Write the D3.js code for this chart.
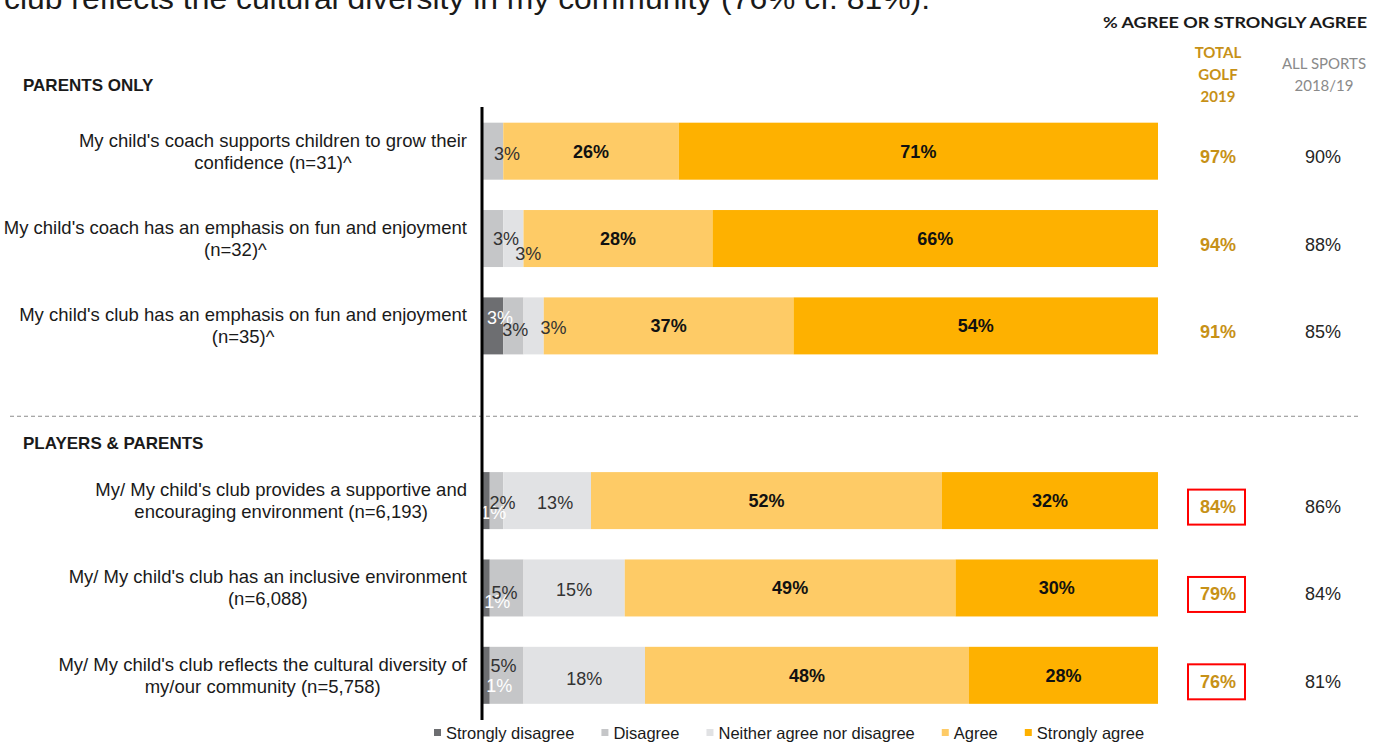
<!DOCTYPE html>
<html><head><meta charset="utf-8">
<script src="https://cdn.jsdelivr.net/npm/d3@7"></script>
<style>body{margin:0;background:#fff;}svg{display:block;}</style>
</head><body>
<svg id="chart" width="1374" height="750"></svg>
<script>
// ---- data ----
const titleText = "club reflects the cultural diversity in my community (76% cf. 81%).";
const sections = ["PARENTS ONLY", "PLAYERS & PARENTS"];
const categories = [
  ["My child's coach supports children to grow their", "confidence (n=31)^"],
  ["My child's coach has an emphasis on fun and enjoyment", "(n=32)^"],
  ["My child's club has an emphasis on fun and enjoyment", "(n=35)^"],
  ["My/ My child's club provides a supportive and", "encouraging environment (n=6,193)"],
  ["My/ My child's club has an inclusive environment", "(n=6,088)"],
  ["My/ My child's club reflects the cultural diversity of", "my/our community (n=5,758)"]
];
const rowSection = [0, 0, 0, 1, 1, 1];
const seriesNames = ["Strongly disagree", "Disagree", "Neither agree nor disagree", "Agree", "Strongly agree"];
const stronglyDisagree = [0, 0, 3, 1, 1, 1];
const disagree         = [3, 3, 3, 2, 5, 5];
const neither          = [0, 3, 3, 13, 15, 18];
const agree            = [26, 28, 37, 52, 49, 48];
const stronglyAgree    = [71, 66, 54, 32, 30, 28];
const totalGolf2019    = [97, 94, 91, 84, 79, 76];
const allSports201819  = [90, 88, 85, 86, 84, 81];
const highlighted      = [false, false, false, true, true, true];
const headerMain = "% AGREE OR STRONGLY AGREE";
const headerGolf = ["TOTAL", "GOLF", "2019"];
const headerAll = ["ALL SPORTS", "2018/19"];

// ---- styles ----
const colors = ["#6d6e71", "#c5c6c8", "#e1e2e4", "#fecb66", "#feb100"];
const labelColors = ["#ffffff", "#333333", "#333333", "#111111", "#111111"];
const labelWeights = ["normal", "normal", "normal", "bold", "bold"];
const gold = "#c79117";
const FONT = "'Liberation Sans', Arial, sans-serif";
// manual label nudges [row-series] = [dx, dy] (mimicking the original label placement)
const nudge = {
  "0-1": [14, 2],
  "1-1": [13, 0], "1-2": [15, 15],
  "2-0": [7, -8], "2-1": [2, 4], "2-2": [20, 2],
  "3-0": [7, 12], "3-1": [6, 2], "3-2": [8, 2],
  "4-0": [11, 14], "4-1": [-2, 5], "4-2": [0, 2],
  "5-0": [13, 10], "5-1": [-3, -10], "5-2": [0, 3]
};

const svg = d3.select("#chart");
const series = [stronglyDisagree, disagree, neither, agree, stronglyAgree];

const x = d3.scaleLinear().domain([0, 100]).range([483, 1158]);
const slots = ["r0", "r1", "r2", "gap", "r3", "r4", "r5"];
const y = d3.scalePoint().domain(slots).range([107.5, 719]).padding(0.5);
const rowKey = i => slots[i < 3 ? i : i + 1];
const barH = 57;

// title (cut at top)
svg.append("text").attr("x", 4).attr("y", 9)
  .attr("font-family", FONT).attr("font-size", 29).attr("fill", "#1a1a1a")
  .attr("textLength", 926).attr("lengthAdjust", "spacingAndGlyphs")
  .text(titleText);

// headers
svg.append("text").attr("x", 1235).attr("y", 28).attr("text-anchor", "middle")
  .attr("font-family", "Lato, 'Open Sans', sans-serif").attr("font-weight", "bold")
  .attr("font-size", 16).attr("fill", "#1a1a1a")
  .attr("textLength", 264).attr("lengthAdjust", "spacingAndGlyphs").text(headerMain);
headerGolf.forEach((t, i) => svg.append("text").attr("x", 1218).attr("y", 58 + i * 22)
  .attr("text-anchor", "middle").attr("font-family", "Lato, 'Open Sans', sans-serif")
  .attr("font-weight", "bold").attr("font-size", 15).attr("fill", gold).text(t));
headerAll.forEach((t, i) => svg.append("text").attr("x", 1324).attr("y", 69 + i * 22)
  .attr("text-anchor", "middle").attr("font-family", "Lato, 'Open Sans', sans-serif")
  .attr("font-size", 15).attr("fill", "#8a8a8a").text(t));

// section headings
svg.append("text").attr("x", 23).attr("y", 91).attr("font-family", FONT)
  .attr("font-weight", "bold").attr("font-size", 17).attr("fill", "#1a1a1a").text(sections[0]);
svg.append("text").attr("x", 23).attr("y", 449).attr("font-family", FONT)
  .attr("font-weight", "bold").attr("font-size", 17).attr("fill", "#1a1a1a").text(sections[1]);

// dashed separator
svg.append("line").attr("x1", 10).attr("x2", 1360).attr("y1", y("gap") + 3).attr("y2", y("gap") + 3)
  .attr("stroke", "#8c8c8c").attr("stroke-width", 1).attr("stroke-dasharray", "4,3");

// stacked data
const rows = categories.map((c, i) => {
  const o = {i};
  seriesNames.forEach((s, k) => o[s] = series[k][i]);
  return o;
});
const stack = d3.stack().keys(seriesNames)(rows);

stack.forEach((layer, k) => {
  svg.append("g").selectAll("rect").data(layer).join("rect")
    .attr("x", d => x(d[0])).attr("width", d => x(d[1]) - x(d[0]))
    .attr("y", d => y(rowKey(d.data.i)) - barH / 2).attr("height", barH)
    .attr("fill", colors[k]);
});
stack.forEach((layer, k) => {
  svg.append("g").selectAll("text").data(layer.filter(d => d[1] - d[0] > 0)).join("text")
    .attr("x", d => x((d[0] + d[1]) / 2) + ((nudge[d.data.i + "-" + k] || [0, 0])[0]))
    .attr("y", d => y(rowKey(d.data.i)) + ((nudge[d.data.i + "-" + k] || [0, 0])[1]))
    .attr("dy", "0.36em").attr("text-anchor", "middle")
    .attr("font-family", FONT).attr("font-size", 18)
    .attr("font-weight", labelWeights[k]).attr("fill", labelColors[k])
    .text(d => (d[1] - d[0]) + "%");
});

// axis line
svg.append("line").attr("x1", 482).attr("x2", 482).attr("y1", 107).attr("y2", 720)
  .attr("stroke", "#000").attr("stroke-width", 3);

// category labels (two lines, centered block, right-aligned to axis)
categories.forEach((lines, i) => {
  const cy = y(rowKey(i));
  const g = svg.append("g");
  const mk = t => g.append("text").attr("font-family", FONT).attr("font-size", 18.5)
    .attr("fill", "#1a1a1a").attr("text-anchor", "middle").text(t);
  const t1 = mk(lines[0]), t2 = mk(lines[1]);
  const w = Math.max(t1.node().getComputedTextLength(), t2.node().getComputedTextLength());
  const cx = 467 - w / 2;
  t1.attr("x", cx).attr("y", cy - 11).attr("dy", "0.35em");
  t2.attr("x", cx).attr("y", cy + 11).attr("dy", "0.35em");
});

// value columns
categories.forEach((c, i) => {
  const cy = y(rowKey(i)) + 6;
  svg.append("text").attr("x", 1218).attr("y", cy).attr("dy", "0.35em").attr("text-anchor", "middle")
    .attr("font-family", FONT).attr("font-weight", "bold").attr("font-size", 18).attr("fill", gold)
    .text(totalGolf2019[i] + "%");
  svg.append("text").attr("x", 1323).attr("y", cy).attr("dy", "0.35em").attr("text-anchor", "middle")
    .attr("font-family", FONT).attr("font-size", 18).attr("fill", "#262626")
    .text(allSports201819[i] + "%");
  if (highlighted[i]) {
    svg.append("rect").attr("x", 1188).attr("y", cy - 17).attr("width", 57).attr("height", 35)
      .attr("fill", "none").attr("stroke", "#ff0000").attr("stroke-width", 2);
  }
});

// legend
const legend = svg.append("g");
let lx = 434;
seriesNames.forEach((s, k) => {
  legend.append("rect").attr("x", lx).attr("y", 729).attr("width", 7).attr("height", 7).attr("fill", colors[k]);
  const t = legend.append("text").attr("x", lx + 12).attr("y", 733).attr("dy", "0.35em")
    .attr("font-family", FONT).attr("font-size", 16.5).attr("fill", "#1a1a1a").text(s);
  lx += 12 + t.node().getComputedTextLength() + 27;
});
</script>
</body></html>
